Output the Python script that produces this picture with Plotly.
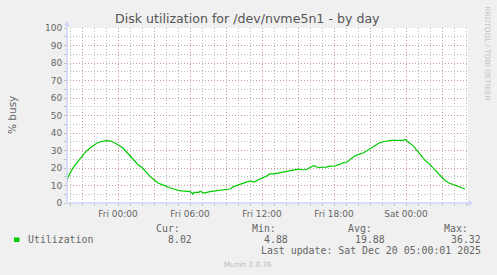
import plotly.graph_objects as go

# ---- data ----
times = [
    "2025-12-18 19:45", "2025-12-18 20:00", "2025-12-18 20:20", "2025-12-18 20:40",
    "2025-12-18 21:00", "2025-12-18 21:20", "2025-12-18 21:40", "2025-12-18 22:00",
    "2025-12-18 22:15", "2025-12-18 22:35", "2025-12-18 23:00", "2025-12-18 23:25",
    "2025-12-18 23:40", "2025-12-19 00:00", "2025-12-19 00:25", "2025-12-19 00:45",
    "2025-12-19 01:00", "2025-12-19 01:20", "2025-12-19 01:40", "2025-12-19 02:00",
    "2025-12-19 02:20", "2025-12-19 02:40", "2025-12-19 03:00", "2025-12-19 03:20",
    "2025-12-19 03:40", "2025-12-19 04:00", "2025-12-19 04:20", "2025-12-19 04:40",
    "2025-12-19 05:00", "2025-12-19 05:20", "2025-12-19 05:40", "2025-12-19 06:00",
    "2025-12-19 06:10", "2025-12-19 06:15", "2025-12-19 06:20", "2025-12-19 06:45",
    "2025-12-19 06:50", "2025-12-19 07:10", "2025-12-19 07:40", "2025-12-19 08:20",
    "2025-12-19 09:00", "2025-12-19 09:20", "2025-12-19 09:40", "2025-12-19 10:00",
    "2025-12-19 10:20", "2025-12-19 10:40", "2025-12-19 11:00", "2025-12-19 11:20",
    "2025-12-19 11:40", "2025-12-19 12:00", "2025-12-19 12:20", "2025-12-19 12:40",
    "2025-12-19 13:00", "2025-12-19 13:20", "2025-12-19 13:40", "2025-12-19 14:00",
    "2025-12-19 14:20", "2025-12-19 14:40", "2025-12-19 15:00", "2025-12-19 15:20",
    "2025-12-19 15:40", "2025-12-19 16:00", "2025-12-19 16:20", "2025-12-19 16:40",
    "2025-12-19 17:00", "2025-12-19 17:20", "2025-12-19 17:40", "2025-12-19 18:00",
    "2025-12-19 18:25", "2025-12-19 18:45", "2025-12-19 19:05", "2025-12-19 19:25",
    "2025-12-19 19:45", "2025-12-19 20:05", "2025-12-19 20:25", "2025-12-19 20:45",
    "2025-12-19 21:05", "2025-12-19 21:25", "2025-12-19 21:45", "2025-12-19 22:05",
    "2025-12-19 22:25", "2025-12-19 22:45", "2025-12-19 23:05", "2025-12-19 23:25",
    "2025-12-19 23:45", "2025-12-19 23:55", "2025-12-20 00:15", "2025-12-20 00:35",
    "2025-12-20 00:55", "2025-12-20 01:15", "2025-12-20 01:35", "2025-12-20 01:55",
    "2025-12-20 02:15", "2025-12-20 02:35", "2025-12-20 02:55", "2025-12-20 03:15",
    "2025-12-20 03:35", "2025-12-20 03:55", "2025-12-20 04:15", "2025-12-20 04:35",
    "2025-12-20 04:55",
]
utilization = [
    13.3, 17.1, 20.9, 23.8,
    27.0, 29.5, 31.4, 33.1,
    34.3, 35.0, 35.6, 35.4,
    34.7, 33.3, 31.4, 28.9,
    27.4, 24.7, 21.9, 20.3,
    17.5, 15.2, 13.3, 11.4,
    10.5, 9.5, 8.7, 8.0,
    7.2, 6.9, 6.6, 6.5,
    5.8, 4.9, 6.1, 6.1,
    6.7, 5.7, 6.5, 7.2,
    7.6, 8.0, 9.5, 10.3,
    10.8, 11.8, 12.6, 12.0,
    13.3, 14.3, 15.2, 16.6,
    16.7, 17.1, 17.7, 17.9,
    18.6, 19.0, 19.4, 19.0,
    19.0, 20.3, 21.3, 20.3,
    20.3, 20.5, 21.1, 21.0,
    21.9, 22.9, 23.4, 25.1,
    27.0, 27.8, 28.6, 29.9,
    31.2, 32.9, 34.3, 35.0,
    35.6, 35.8, 35.8, 35.6,
    35.8, 36.3, 34.7, 32.8,
    30.1, 27.0, 24.4, 22.5,
    20.0, 17.5, 14.9, 12.9,
    11.4, 10.6, 9.9, 8.7,
    8.0,
]
x_range = ["2025-12-18 19:45", "2025-12-20 05:10"]
x_tickvals = ["2025-12-18 21:00", "2025-12-19 00:00", "2025-12-19 03:00",
              "2025-12-19 06:00", "2025-12-19 09:00", "2025-12-19 12:00",
              "2025-12-19 15:00", "2025-12-19 18:00", "2025-12-19 21:00",
              "2025-12-20 00:00", "2025-12-20 03:00"]
x_ticktext = ["", "Fri 00:00", "", "Fri 06:00", "", "Fri 12:00", "",
              "Fri 18:00", "", "Sat 00:00", ""]
y_ticks = [0, 10, 20, 30, 40, 50, 60, 70, 80, 90, 100]

title = "Disk utilization for /dev/nvme5n1 - by day"
series_name = "Utilization"
stat_labels = ["Cur:", "Min:", "Avg:", "Max:"]
stat_values = ["8.02", "4.88", "19.88", "36.32"]
last_update = "Last update: Sat Dec 20 05:00:01 2025"
footer = "Munin 2.0.76"
watermark = "RRDTOOL / TOBI OETIKER"

# ---- layout geometry (pixels) ----
W, H = 497, 275
L, R, T, B = 67, 468, 28, 203


def px(x):
    return (x - L) / (R - L)


def py(y):
    return (B - y) / (B - T)


FONT = "DejaVu Sans"
MONO = "DejaVu Sans Mono"
FC = "#666666"
AXC = "#CFD6F8"
GREEN = "#00CC00"

fig = go.Figure()
fig.add_trace(go.Scatter(x=times, y=utilization, mode="lines",
                         line=dict(color=GREEN, width=1.2), showlegend=False,
                         hoverinfo="skip"))

grid_minor = "rgba(150,150,150,0.6)"
grid_major = "rgba(222,100,100,0.42)"
DASH = "1px,2px"

fig.update_layout(
    width=W, height=H,
    margin=dict(l=L, r=W - R, t=T, b=H - B),
    paper_bgcolor="#F0F0F0",
    plot_bgcolor="#FFFFFF",
    showlegend=False,
    xaxis=dict(
        type="date", range=x_range,
        tickmode="array", tickvals=x_tickvals, ticktext=x_ticktext,
        showgrid=True, gridcolor=grid_major, griddash=DASH, gridwidth=1,
        ticks="outside", ticklen=2, tickcolor="#BBBBBB",
        tickfont=dict(family=FONT, size=9, color=FC),
        minor=dict(dtick=3600000, tick0="2025-12-18 00:00", showgrid=True,
                   gridcolor=grid_minor, griddash=DASH, gridwidth=1,
                   ticks="outside", ticklen=2, tickcolor="#BBBBBB"),
        showline=False, zeroline=False, fixedrange=True,
    ),
    yaxis=dict(
        range=[0, 100], tickmode="array", tickvals=y_ticks,
        showgrid=True, gridcolor=grid_major, griddash=DASH, gridwidth=1,
        ticks="outside", ticklen=2, tickcolor="#BBBBBB",
        tickfont=dict(family=FONT, size=9, color=FC),
        minor=dict(dtick=5, showgrid=True, gridcolor=grid_minor,
                   griddash=DASH, gridwidth=1,
                   ticks="outside", ticklen=2, tickcolor="#BBBBBB"),
        showline=False, zeroline=False, fixedrange=True,
    ),
)

# axes with arrows
shapes = [
    dict(type="line", xref="paper", yref="paper", x0=0, x1=px(470), y0=0, y1=0,
         line=dict(color=AXC, width=1.5)),
    dict(type="line", xref="paper", yref="paper", x0=0, x1=0, y0=0, y1=py(24),
         line=dict(color=AXC, width=1.5)),
    dict(type="path", xref="paper", yref="paper", xsizemode="pixel", ysizemode="pixel",
         xanchor=0, yanchor=py(21), path="M -3,-5 L 3,-5 L 0,0 Z",
         fillcolor=AXC, line=dict(width=0)),
    dict(type="path", xref="paper", yref="paper", xsizemode="pixel", ysizemode="pixel",
         xanchor=px(473), yanchor=0, path="M -5,-3 L -5,3 L 0,0 Z",
         fillcolor=AXC, line=dict(width=0)),
    # legend colour box
    dict(type="rect", xref="paper", yref="paper", x0=px(14), x1=px(19.5),
         y0=py(242), y1=py(237.5), fillcolor=GREEN, line=dict(width=0)),
]
fig.update_layout(shapes=shapes)

ann = []


def text(s, x, y, xa="left", size=9.9, fam=MONO, color=FC, angle=0):
    ann.append(dict(text=s, x=px(x), y=py(y), xref="paper", yref="paper",
                    xanchor=xa, yanchor="middle", showarrow=False,
                    textangle=angle, font=dict(family=fam, size=size, color=color)))


text(title, 247.5, 18.5, "center", 12.6, FONT, "#555555")
text("% busy", 12, 115, "center", 10.5, FONT, FC, -90)
text(watermark, 487.5, 53, "center", 7.3, FONT, "#C4C4C4", 90)
text(series_name, 26, 239.5)
stat_label_x = [182, 278, 374, 470]
stat_value_x = [194, 290, 387, 483]
for lab, val, lx, vx in zip(stat_labels, stat_values, stat_label_x, stat_value_x):
    text(lab, lx, 228.5, "right")
    text(val, vx, 239.5, "right")
text(last_update, 483, 250.7, "right")
text(footer, 248, 264.3, "center", 7.3, FONT, "#BBBBBB")
fig.update_layout(annotations=ann)

fig.write_html("out.html")
